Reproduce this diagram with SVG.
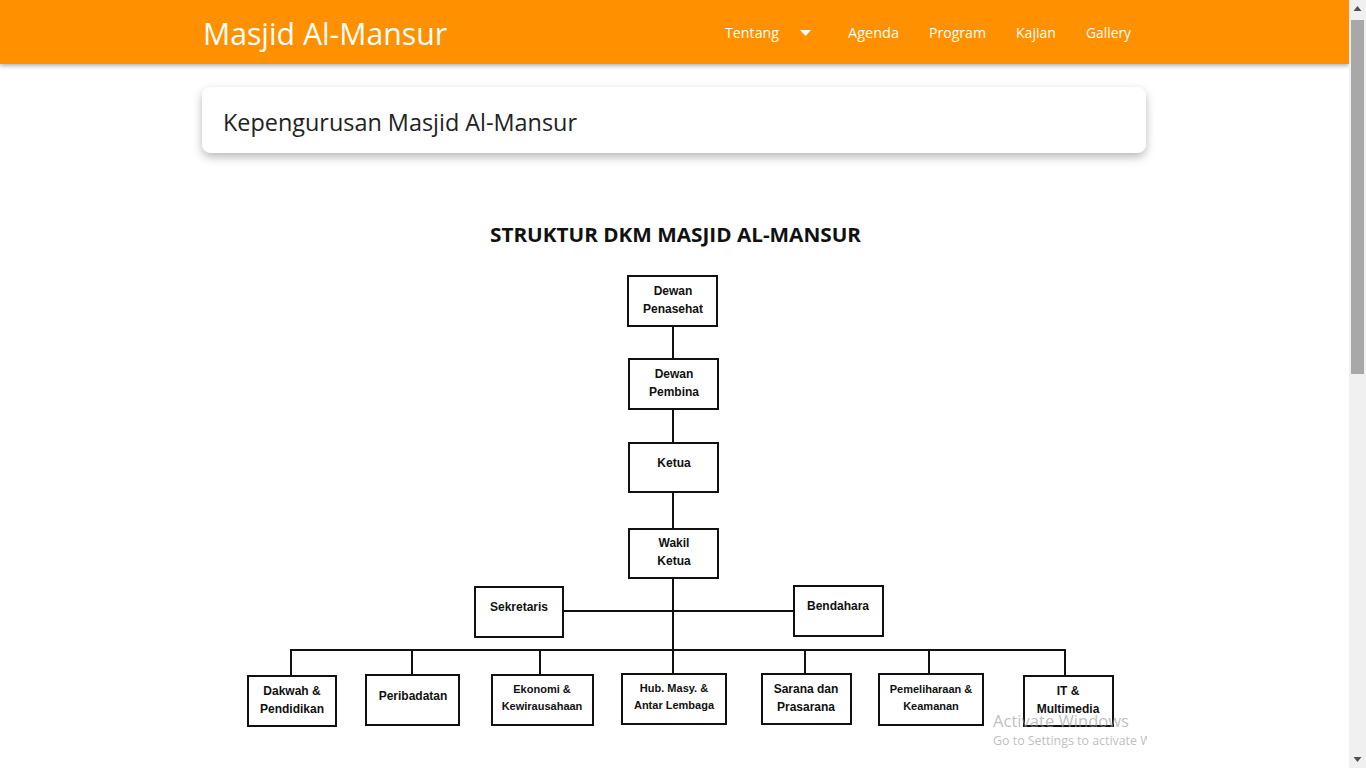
<svg xmlns="http://www.w3.org/2000/svg" width="1366" height="768" viewBox="0 0 1366 768">
<defs>
<filter id="navsh" x="-5%" y="-50%" width="110%" height="200%"><feDropShadow dx="0" dy="2" stdDeviation="2" flood-color="#000" flood-opacity="0.3"/></filter>
<filter id="cardsh" x="-5%" y="-40%" width="110%" height="190%"><feDropShadow dx="0" dy="4" stdDeviation="5" flood-color="#000" flood-opacity="0.28"/></filter>
<clipPath id="wm"><rect x="980" y="700" width="167" height="60"/></clipPath>
<style>
.box{fill:#fff;stroke:#111;stroke-width:2}
.t{font-family:"Liberation Sans",Arial,sans-serif;font-weight:bold;font-size:12px;fill:#111;text-anchor:middle}
.s{font-size:11px}
.nav{font-family:"Open Sans","Liberation Sans",sans-serif;font-size:15px;fill:#fff}
.ln{stroke:#111;stroke-width:2;fill:none}
</style>
</defs>
<rect width="1366" height="768" fill="#fff"/>
<!-- navbar -->
<g id="navbar">
<rect x="0" y="0" width="1349" height="64" fill="#ff9100" filter="url(#navsh)"/>
<text x="203" y="45" font-family="'Open Sans','Liberation Sans',sans-serif" font-size="31" fill="#fff" textLength="244" lengthAdjust="spacingAndGlyphs">Masjid Al-Mansur</text>
<text class="nav" x="725" y="38" textLength="54" lengthAdjust="spacingAndGlyphs">Tentang</text>
<polygon points="800,30 811,30 805.5,36" fill="#fff"/>
<text class="nav" x="848" y="38" textLength="51" lengthAdjust="spacingAndGlyphs">Agenda</text>
<text class="nav" x="929" y="38" textLength="57" lengthAdjust="spacingAndGlyphs">Program</text>
<text class="nav" x="1016" y="38" textLength="40" lengthAdjust="spacingAndGlyphs">Kajian</text>
<text class="nav" x="1086" y="38" textLength="45" lengthAdjust="spacingAndGlyphs">Gallery</text>
</g>
<!-- scrollbar -->
<g id="scrollbar">
<rect x="1349" y="0" width="17" height="768" fill="#f0f0f0"/>
<rect x="1351" y="20" width="13" height="354" fill="#a8a8a8"/>
<polygon points="1357.5,6 1361.5,11 1353.5,11" fill="#505050"/>
<polygon points="1353.5,757 1361.5,757 1357.5,762" fill="#505050"/>
</g>
<!-- card -->
<g id="card">
<rect x="202" y="87" width="944" height="66" rx="9" fill="#fff" filter="url(#cardsh)"/>
<text x="223" y="131" font-family="'Open Sans','Liberation Sans',sans-serif" font-size="24" fill="#222" textLength="354" lengthAdjust="spacingAndGlyphs">Kepengurusan Masjid Al-Mansur</text>
</g>
<text id="title" x="490" y="242" font-family="'Open Sans','Liberation Sans',sans-serif" font-weight="bold" font-size="20" fill="#111" textLength="371" lengthAdjust="spacingAndGlyphs">STRUKTUR DKM MASJID AL-MANSUR</text>
<!-- connectors -->
<g id="connectors" class="ln">
<line x1="673" y1="326" x2="673" y2="359"/>
<line x1="673" y1="409" x2="673" y2="443"/>
<line x1="673" y1="492" x2="673" y2="529"/>
<line x1="673" y1="578" x2="673" y2="674"/>
<line x1="563" y1="611" x2="794" y2="611"/>
<polyline points="291,676 291,650 1065,650 1065,676"/>
<line x1="412" y1="650" x2="412" y2="675"/>
<line x1="540" y1="650" x2="540" y2="675"/>
<line x1="805" y1="650" x2="805" y2="674"/>
<line x1="929" y1="650" x2="929" y2="674"/>
</g>
<!-- nodes -->
<g id="n-penasehat"><rect class="box" x="628" y="276" width="89" height="50"/><text class="t" x="673" y="295">Dewan</text><text class="t" x="673" y="313">Penasehat</text></g>
<g id="n-pembina"><rect class="box" x="629" y="359" width="89" height="50"/><text class="t" x="674" y="378">Dewan</text><text class="t" x="674" y="396">Pembina</text></g>
<g id="n-ketua"><rect class="box" x="629" y="443" width="89" height="49"/><text class="t" x="674" y="467">Ketua</text></g>
<g id="n-wakil"><rect class="box" x="629" y="529" width="89" height="49"/><text class="t" x="674" y="547">Wakil</text><text class="t" x="674" y="565">Ketua</text></g>
<g id="n-sekretaris"><rect class="box" x="475" y="587" width="88" height="50"/><text class="t" x="519" y="611">Sekretaris</text></g>
<g id="n-bendahara"><rect class="box" x="794" y="586" width="89" height="50"/><text class="t" x="838" y="610">Bendahara</text></g>
<g id="n-dakwah"><rect class="box" x="248" y="676" width="88" height="50"/><text class="t" x="292" y="695">Dakwah &amp;</text><text class="t" x="292" y="713">Pendidikan</text></g>
<g id="n-peribadatan"><rect class="box" x="366" y="675" width="93" height="50"/><text class="t" x="413" y="700">Peribadatan</text></g>
<g id="n-ekonomi"><rect class="box" x="492" y="675" width="101" height="50"/><text class="t s" x="542" y="693">Ekonomi &amp;</text><text class="t s" x="542" y="710">Kewirausahaan</text></g>
<g id="n-hubmasy"><rect class="box" x="622" y="674" width="104" height="50"/><text class="t s" x="674" y="692">Hub. Masy. &amp;</text><text class="t s" x="674" y="709">Antar Lembaga</text></g>
<g id="n-sarana"><rect class="box" x="762" y="674" width="89" height="50"/><text class="t" x="806" y="693">Sarana dan</text><text class="t" x="806" y="711">Prasarana</text></g>
<g id="n-pemeliharaan"><rect class="box" x="879" y="674" width="104" height="51"/><text class="t s" x="931" y="693">Pemeliharaan &amp;</text><text class="t s" x="931" y="710">Keamanan</text></g>
<g id="n-it"><rect class="box" x="1024" y="676" width="89" height="50"/><text class="t" x="1068" y="695">IT &amp;</text><text class="t" x="1068" y="713">Multimedia</text></g>
<!-- watermark -->
<g id="watermark" clip-path="url(#wm)" font-family="'Open Sans','Liberation Sans',sans-serif" fill="#9a9a9a" fill-opacity="0.65">
<text x="993" y="727" font-size="17" textLength="136" lengthAdjust="spacingAndGlyphs">Activate Windows</text>
<text x="993" y="745" font-size="12" textLength="200" lengthAdjust="spacingAndGlyphs">Go to Settings to activate Windows</text>
</g>
</svg>
